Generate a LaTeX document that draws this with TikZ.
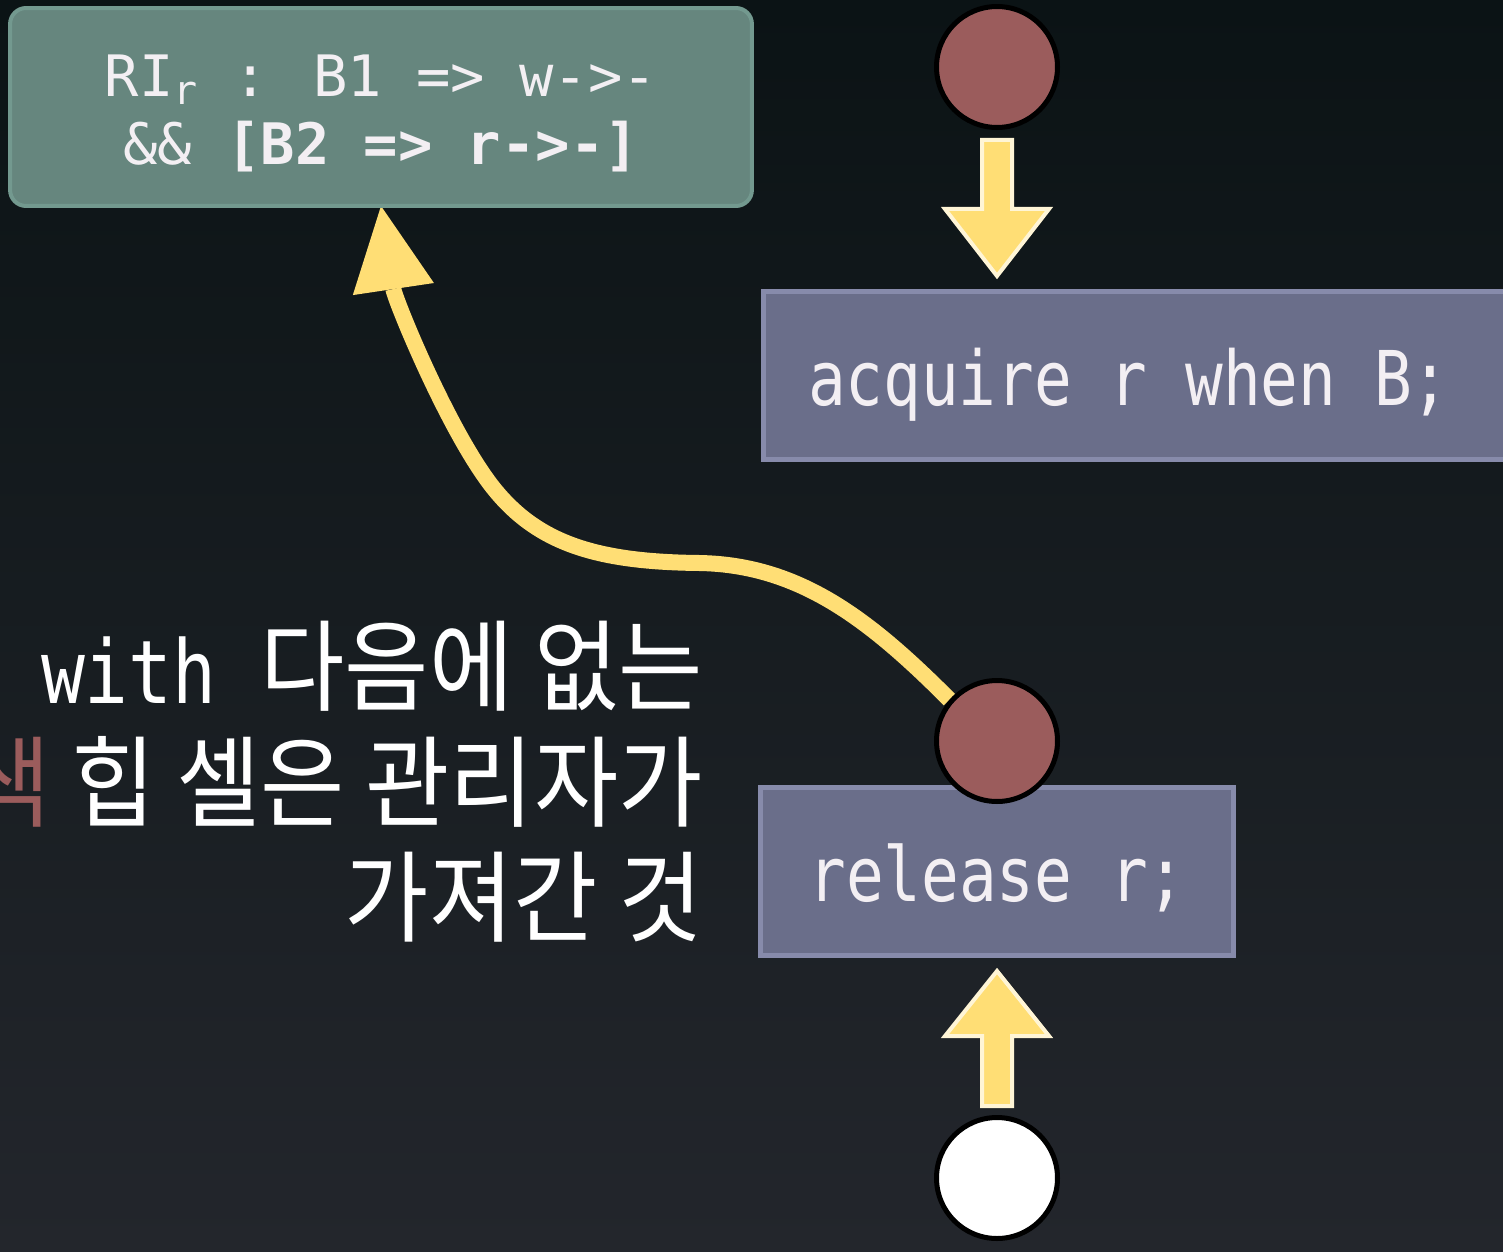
\documentclass[tikz,border=0pt]{standalone}
\usepackage{fontspec}
\usepackage{tikz}
\usetikzlibrary{positioning,arrows.meta,backgrounds}
\newfontfamily\codefont[FakeStretch=0.83]{DejaVu Sans Mono}
\newfontfamily\invfont{DejaVu Sans Mono}
\newfontfamily\krfont[FakeStretch=0.92]{Noto Sans CJK KR}
\definecolor{bgtop}{HTML}{0B1315}
\definecolor{bgbot}{HTML}{23262C}
\definecolor{inv}{HTML}{66867E}
\definecolor{invline}{HTML}{73998F}
\definecolor{stmt}{HTML}{6A6E8A}
\definecolor{stmtline}{HTML}{878BAB}
\definecolor{cell}{HTML}{9B5C5C}
\definecolor{flow}{HTML}{FFDE75}
\definecolor{flowline}{HTML}{FFF5D6}
\definecolor{ink}{HTML}{F3EFF3}
\tikzstyle{invbox} = [draw=invline, fill=inv, line width=0.08cm, rounded corners=0.32cm, minimum width=14.84cm, minimum height=3.96cm, text height=2.3cm, text depth=0pt, text=ink, align=center, font=\invfont\fontsize{32.5pt}{38.5pt}\selectfont]
\tikzstyle{stmtbox} = [draw=stmtline, fill=stmt, line width=0.1cm, minimum height=3.36cm, inner xsep=0.9cm, text height=1.3cm, text depth=0.1cm, text=ink, font=\codefont\fontsize{43pt}{50pt}\selectfont]
\tikzstyle{heap} = [draw=black, circle, line width=0.1cm, minimum size=2.42cm, inner sep=0pt, fill=cell]
\tikzstyle{fat} = [draw=flowline, fill=flow, line width=0.08cm, line join=miter]
\tikzstyle{back} = [-{Triangle[length=1.68cm,width=1.64cm,line width=0pt]}, draw=flow, line width=0.32cm]
\tikzstyle{note} = [text=white, align=right, inner sep=0pt, font=\krfont\fontsize{56.7pt}{65.8pt}\selectfont]

\begin{document}
\begin{tikzpicture}[x=0.02cm, y=-0.02cm]
		\useasboundingbox (0,0) rectangle (1503,1251);
		\begin{scope}[on background layer]
		\shade[top color=bgtop, bottom color=bgbot] (0,0) rectangle (1503,1251);
		\end{scope}
		% resource invariant
		\node (ri) [invbox] at (381,107) {RI\textsubscript{r} : B1 => w->-\\ \&\& \textbf{[B2 => r->-]}};
		% statements
		\node (held) [heap] at (997,67) {};
		\node (acq) [stmtbox, anchor=west] at (760.5,375.5) {acquire r when B;\hspace{1.5cm}\mbox{}};
		\node (rel) [stmtbox, minimum width=9.48cm] at (997,871) {release r;};
		\node (freed) [heap] at (997,741) {};
		\node (start) [heap, fill=white] at (997,1178) {};
		\draw[fat] (held.south) ++(-15,10) -- ++(0,69) -- ++(-37,0) -- ++(52,67) -- ++(52,-67) -- ++(-37,0) -- ++(0,-69) -- cycle;
		\draw[fat] (start.north) ++(-15,-9) -- ++(0,-70) -- ++(-37,0) -- ++(52,-65) -- ++(52,65) -- ++(-37,0) -- ++(0,70) -- cycle;
		\begin{scope}[on background layer]
		\draw[back] (freed.139) .. controls (870,620) and (800,565) .. (700,563)
			.. controls (600,562) and (540,545) .. (495,490)
			.. controls (450,435) and (395,300) .. ([yshift=0.04cm]ri.south);
		\end{scope}
		% explanation
		\node (txt) [note, anchor=east] at (703,782) {{\codefont\fontsize{50pt}{65.8pt}\selectfont with }다음에 없는\\ \textcolor{cell}{색} 힙 셀은 관리자가\\ 가져간 것};
\end{tikzpicture}
\end{document}
